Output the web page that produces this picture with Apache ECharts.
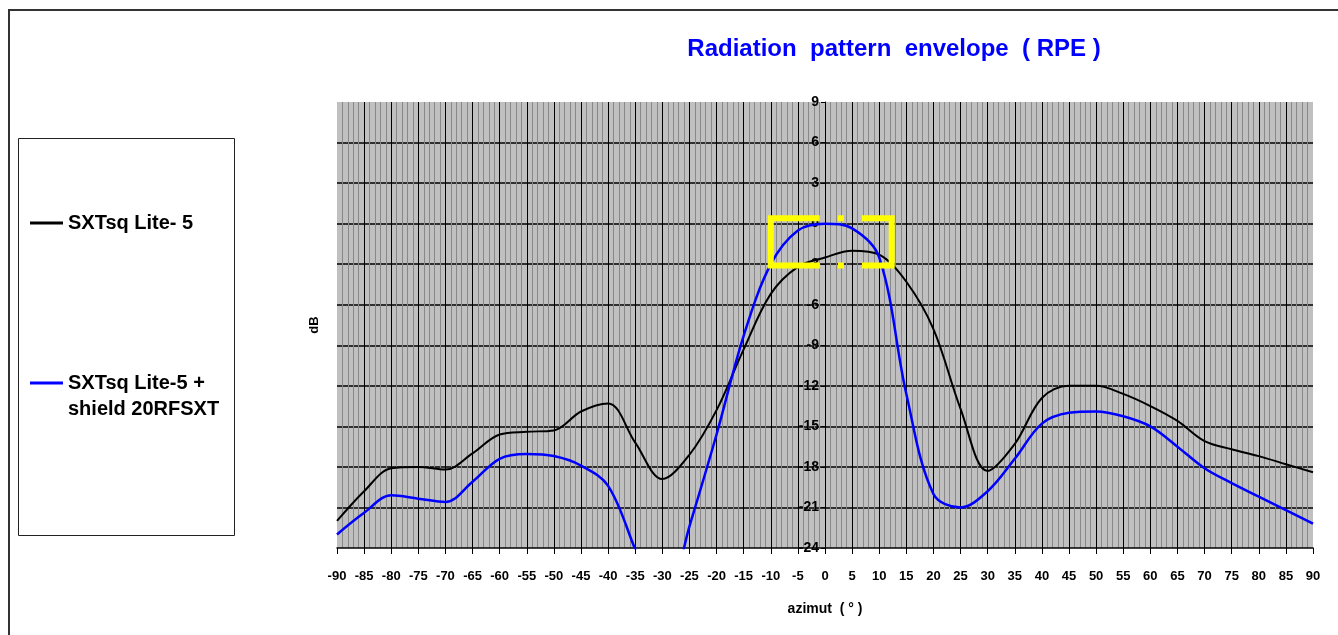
<!DOCTYPE html>
<html>
<head>
<meta charset="utf-8">
<title>Radiation pattern envelope (RPE)</title>
<script src="https://cdn.jsdelivr.net/npm/echarts@6/dist/echarts.min.js"></script>
<style>
  html, body { margin: 0; padding: 0; background: #fff; }
  #chart { width: 1338px; height: 635px; }
</style>
</head>
<body>
<div id="chart"></div>
<script>
// azimut, degrees
const azimut = [-90, -85, -80, -75, -70, -65, -60, -55, -50, -45, -40, -35, -30, -25, -20, -15, -10, -5,
  0, 5, 10, 15, 20, 25, 30, 35, 40, 45, 50, 55, 60, 65, 70, 75, 80, 85, 90];

// SXTsq Lite-5 (dB)
const lite5 = [-22.0, -19.8, -18.1, -18.0, -18.2, -17.0, -15.6, -15.4, -15.3, -13.9, -13.3, -16.2, -18.9, -17.1, -13.8, -9.3, -5.2, -3.2,
  -2.5, -2.0, -2.3, -4.3, -7.8, -13.7, -18.3, -16.3, -12.9, -12.0, -12.0, -12.6, -13.5, -14.6, -16.1, -16.7, -17.2, -17.8, -18.4];

// SXTsq Lite-5 + shield 20RFSXT (dB)
const shield = [-23.0, -21.4, -20.1, -20.35, -20.6, -19.1, -17.4, -17.05, -17.2, -17.9, -19.4, -24.1, -29.0, -22.4, -15.6, -8.3, -3.0, -0.5,
  0.0, -0.35, -2.5, -12.6, -20.0, -21.0, -19.8, -17.4, -14.8, -14.0, -13.9, -14.25, -15.0, -16.5, -18.1, -19.2, -20.2, -21.2, -22.2];

const seriesNames = ['SXTsq Lite- 5', 'SXTsq Lite-5 +\nshield 20RFSXT'];

// highlighted zone (azimut, dB)
const zoneFrom = [-10.0, 0.4];
const zoneTo = [12.3, -3.1];

const pairs = (xs, ys) => xs.map((x, i) => [x, ys[i]]);

const chart = echarts.init(document.getElementById('chart'));
const boldFont = 'Liberation Sans, Arial, sans-serif';

chart.setOption({
  backgroundColor: '#fff',
  animation: false,
  title: {
    text: 'Radiation  pattern  envelope  ( RPE )',
    left: 889,
    top: 32,
    textAlign: 'center',
    textStyle: { color: '#0000ff', fontSize: 24, fontWeight: 'bold', fontFamily: boldFont }
  },
  graphic: [
    // cadre exterieur (seuls haut et gauche visibles)
    { type: 'rect', shape: { x: 9, y: 10, width: 1400, height: 700 }, style: { fill: 'none', stroke: '#333', lineWidth: 2 }, silent: true },
    // cadre de la legende
    { type: 'rect', shape: { x: 18.5, y: 138.5, width: 216, height: 397 }, style: { fill: '#fff', stroke: '#222', lineWidth: 1 }, silent: true, z: 1 }
  ],
  legend: {
    orient: 'vertical',
    left: 25,
    top: 205,
    itemWidth: 33,
    itemHeight: 3,
    itemGap: 108,
    icon: 'rect',
    z: 5,
    formatter: name => (name === seriesNames[1] ? ' \n' + name : name),
    textStyle: { fontSize: 20, fontWeight: 'bold', color: '#000', fontFamily: boldFont, lineHeight: 26 },
    data: seriesNames
  },
  grid: { left: 337, right: 25, top: 102, bottom: 87, backgroundColor: '#c0c0c0', show: true, borderWidth: 0 },
  xAxis: {
    type: 'value',
    min: -90, max: 90, interval: 5,
    name: 'azimut  ( ° )',
    nameLocation: 'middle',
    nameGap: 54,
    nameTextStyle: { fontSize: 14, fontWeight: 'bold', color: '#000', fontFamily: boldFont },
    axisLine: { onZero: false, lineStyle: { color: '#000', width: 1.5 } },
    axisTick: { length: 6, lineStyle: { color: '#000' } },
    axisLabel: { margin: 22, fontSize: 13, fontWeight: 'bold', color: '#000', fontFamily: 'Liberation Sans Narrow, ' + boldFont },
    splitLine: { show: true, showMinLine: false, showMaxLine: false, lineStyle: { color: '#000', width: 1 } },
    minorTick: { show: false, splitNumber: 5 },
    minorSplitLine: { show: true, lineStyle: { color: '#888', width: 1 } }
  },
  yAxis: {
    type: 'value',
    min: -24, max: 9, interval: 3,
    // axe place sur azimut 0
    offset: -488,
    name: 'dB',
    nameLocation: 'middle',
    nameRotate: 90,
    nameGap: 504,
    nameTextStyle: { fontSize: 13, fontWeight: 'bold', color: '#000', fontFamily: boldFont },
    axisLine: { show: true, onZero: false, lineStyle: { color: '#000', width: 1 } },
    axisTick: { show: true, length: 4, lineStyle: { color: '#000' } },
    axisLabel: { margin: 6, fontSize: 14, fontWeight: 'bold', color: '#000', fontFamily: boldFont },
    splitLine: { show: true, showMaxLine: false, showMinLine: false, lineStyle: { color: '#000', width: 1.5 } }
  },
  series: [
    {
      name: seriesNames[0],
      type: 'line',
      data: pairs(azimut, lite5),
      smooth: 0.35,
      symbol: 'none',
      lineStyle: { color: '#000', width: 2 },
      itemStyle: { color: '#000' },
      z: 3
    },
    {
      name: seriesNames[1],
      type: 'line',
      data: pairs(azimut, shield),
      smooth: 0.35,
      symbol: 'none',
      lineStyle: { color: '#0000ff', width: 2.5 },
      itemStyle: { color: '#0000ff' },
      z: 4,
      markArea: {
        silent: true,
        z: 6,
        itemStyle: {
          color: 'rgba(0,0,0,0)',
          borderColor: '#ffff00',
          borderWidth: 6,
          borderType: [49, 18, 6, 18, 107, 18, 6, 18, 97]
        },
        data: [[{ coord: zoneFrom }, { coord: zoneTo }]]
      }
    }
  ]
});
</script>
</body>
</html>
